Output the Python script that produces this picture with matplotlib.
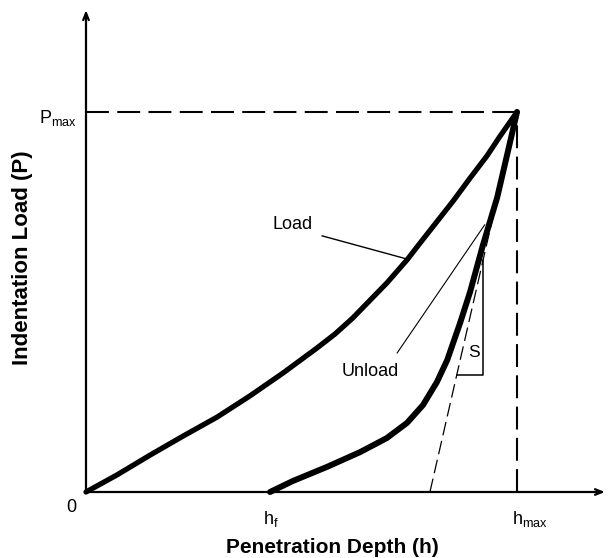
import matplotlib
matplotlib.use("Agg")
import matplotlib.pyplot as plt

plt.rcParams['font.family'] = ['Liberation Sans', 'DejaVu Sans']
plt.rcParams['mathtext.default'] = 'regular'

# normalized data: h / h_max, P / P_max
load_h = [0.0, 0.072, 0.1485, 0.225, 0.304, 0.3805, 0.457, 0.536, 0.578, 0.619,
          0.698, 0.745, 0.775, 0.852, 0.891, 0.930, 0.961, 1.0]
load_p = [0.0, 0.045, 0.097, 0.147, 0.197, 0.253, 0.313, 0.379, 0.416, 0.458,
          0.550, 0.611, 0.655, 0.766, 0.826, 0.884, 0.937, 1.0]
unload_h = [0.427, 0.480, 0.559, 0.636, 0.698, 0.745, 0.782, 0.814, 0.838, 0.868,
            0.891, 0.921, 0.954, 0.977, 1.0]
unload_p = [0.0, 0.029, 0.066, 0.105, 0.142, 0.182, 0.229, 0.289, 0.347, 0.445,
            0.526, 0.650, 0.775, 0.887, 1.0]
h_f = 0.427
h_tangent0 = 0.798
h_max = 1.0
p_max = 1.0

fig = plt.figure(figsize=(6.1, 5.58), dpi=100)
ax = fig.add_axes([86 / 610, 66 / 558, 431 / 610, 380 / 558])
ax.set_xlim(0, 1)
ax.set_ylim(0, 1)
ax.axis('off')

# axes with arrows
ax.annotate('', xy=(1.204, 0), xytext=(0, 0),
            arrowprops=dict(arrowstyle='->,head_length=0.5,head_width=0.2', lw=1.6, color='black',
                            shrinkA=0, shrinkB=0), annotation_clip=False)
ax.annotate('', xy=(0, 1.268), xytext=(0, 0),
            arrowprops=dict(arrowstyle='->,head_length=0.5,head_width=0.2', lw=1.6, color='black',
                            shrinkA=0, shrinkB=0), annotation_clip=False)

# dashed guide lines
ax.plot([0, h_max], [p_max, p_max], color='black', lw=1.5, dashes=(11, 4), clip_on=False)
ax.plot([h_max, h_max], [0, p_max], color='black', lw=1.5, dashes=(11, 4), clip_on=False)

# tangent
ax.plot([h_tangent0, h_max], [0, p_max], color='black', lw=0.9, dashes=(11, 4.5), clip_on=False)

# curves
ax.plot(load_h, load_p, color='black', lw=3.8, solid_joinstyle='round', solid_capstyle='round', clip_on=False)
ax.plot(unload_h, unload_p, color='black', lw=4.3, solid_joinstyle='round', solid_capstyle='round', clip_on=False)

# S triangle
s_top = 0.61
s_bot = 0.308
s_x = 0.921
s_left = h_tangent0 + (h_max - h_tangent0) * s_bot
ax.plot([s_x, s_x, s_left], [s_top, s_bot, s_bot], color='black', lw=1.1, clip_on=False)
ax.text(0.900, 0.366, 'S', fontsize=12.5, ha='center', va='center')

# leader lines and labels
ax.plot([0.548, 0.745], [0.674, 0.613], color='black', lw=1.0)
ax.text(0.480, 0.705, 'Load', fontsize=13, ha='center', va='center')
ax.plot([0.722, 0.925], [0.366, 0.703], color='black', lw=0.8)
ax.text(0.659, 0.316, 'Unload', fontsize=13, ha='center', va='center')

# tick-like labels
ax.text(-0.035, -0.042, '0', fontsize=13, ha='center', va='center')
ax.text(0.428, -0.071, r'$\mathregular{h_f}$', fontsize=13, ha='center', va='center')
ax.text(1.029, -0.071, r'$\mathregular{h_{max}}$', fontsize=13, ha='center', va='center')
ax.text(-0.021, 0.985, r'$\mathregular{P_{max}}$', fontsize=13, ha='right', va='center')

# axis titles
ax.text(0.571, -0.147, 'Penetration Depth (h)', fontsize=15, fontweight='bold',
        ha='center', va='center')
ax.text(-0.148, 0.616, 'Indentation Load (P)', fontsize=16, fontweight='bold',
        ha='center', va='center', rotation=90)

fig.savefig('out.png', dpi=100)
